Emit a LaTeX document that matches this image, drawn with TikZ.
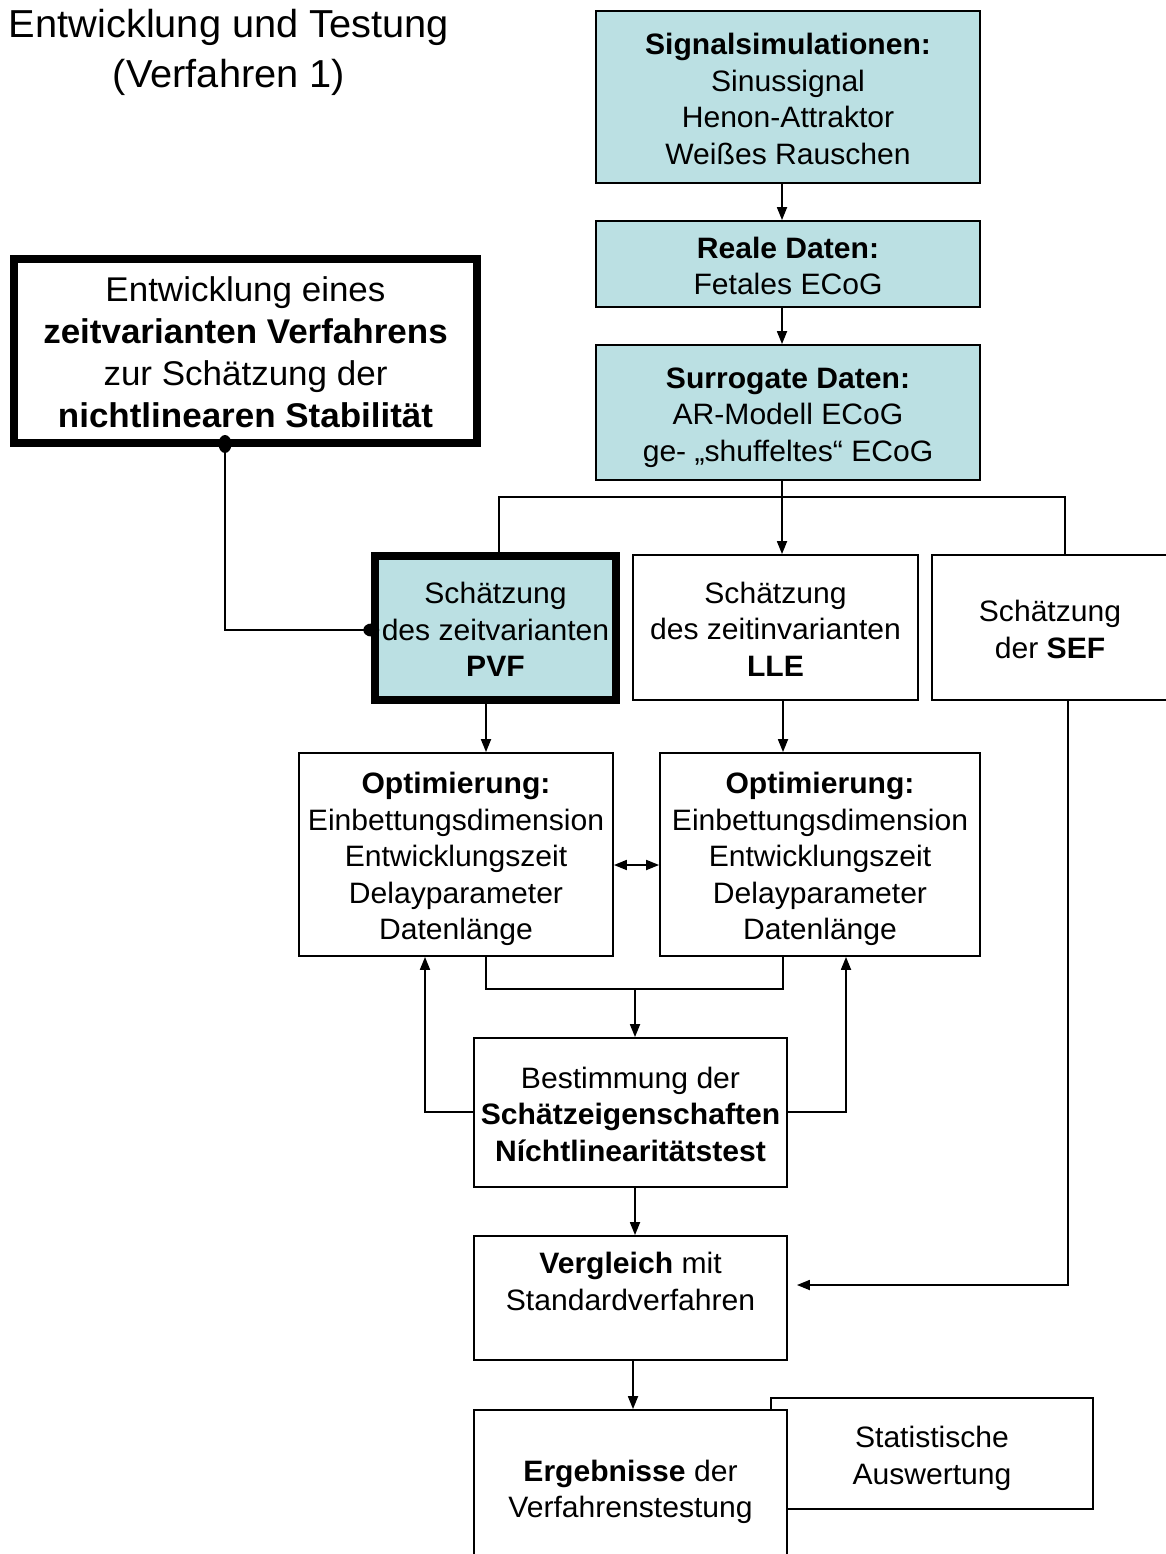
\documentclass[tikz,border=0pt]{standalone}
\usepackage{fontspec}
\setmainfont[FakeStretch=1.02]{Liberation Sans}
\usetikzlibrary{arrows.meta}
\definecolor{boxblue}{RGB}{187,224,227}
\newcommand\bodyfont{\fontsize{29.5}{36.5}\selectfont}
\newcommand\bigfont{\fontsize{34.3}{42}\selectfont}
\newcommand\titlefont{\fontsize{39}{50}\selectfont}
% struts that fix the vertical extent of a multi-line label
\newcommand\topstrut{\rule{0pt}{\dimexpr0.7\baselineskip+10pt\relax}}
\newcommand\botstrut{\strut}
\begin{document}
\begin{tikzpicture}[x=1pt,y=-1pt,
  conn/.style={line width=1.8pt},
  arr/.style={conn,-{Triangle[length=13pt,width=10pt]}},
  dblarr/.style={conn,{Triangle[length=13pt,width=10pt]}-{Triangle[length=13pt,width=10pt]}},
  box/.style={draw, line width=1.8pt, fill=white, align=center, inner sep=0pt, font=\bodyfont},
  bluebox/.style={box, fill=boxblue},
]
\useasboundingbox (0,0) rectangle (1166,1554);
\fill[white] (0,0) rectangle (1166,1554);
\clip (0,0) rectangle (1166,1554);

% heading
\node[font=\titlefont, align=center, inner sep=0pt,
  execute at begin node=\topstrut, execute at end node=\strut]
  (title) at (229,56) {Entwicklung und Testung\\(Verfahren 1)};

% data sources
\node[bluebox, minimum width=384pt, minimum height=172pt] (sim) at (788,97)
  {\topstrut\textbf{Signalsimulationen:}\\Sinussignal\\Henon-Attraktor\\Weißes Rauschen\botstrut};
\node[bluebox, minimum width=384pt, minimum height=86pt] (real) at (788,264)
  {\topstrut\textbf{Reale Daten:}\\Fetales ECoG\botstrut};
\node[bluebox, minimum width=384pt, minimum height=135pt] (surr) at (788,412.5)
  {\topstrut\textbf{Surrogate Daten:}\\AR-Modell ECoG\\ge- „shuffeltes“ ECoG\botstrut};

% development goal
\node[box, line width=8pt, font=\bigfont, minimum width=463pt, minimum height=184pt]
  (dev) at (245.5,351)
  {\topstrut Entwicklung eines\\\textbf{zeitvarianten Verfahrens}\\zur Schätzung der\\\textbf{nichtlinearen Stabilität}\botstrut};

% estimators
\node[bluebox, line width=7.5pt, minimum width=241pt, minimum height=144pt] (pvf) at (495.5,628)
  {\topstrut Schätzung\\des zeitvarianten\\\textbf{PVF}\botstrut};
\node[box, minimum width=285pt, minimum height=145pt] (lle) at (775.5,627.5)
  {\topstrut Schätzung\\des zeitinvarianten\\\textbf{LLE}\botstrut};
\node[box, minimum width=236pt, minimum height=145pt] (sef) at (1050,627.5)
  {\topstrut Schätzung\\der \textbf{SEF}\botstrut};

% optimisation
\node[box, minimum width=314pt, minimum height=203pt] (optA) at (456,854.5)
  {\topstrut\textbf{Optimierung:}\\Einbettungsdimension\\Entwicklungszeit\\Delayparameter\\Datenlänge\botstrut};
\node[box, minimum width=320pt, minimum height=203pt] (optB) at (820,854.5)
  {\topstrut\textbf{Optimierung:}\\Einbettungsdimension\\Entwicklungszeit\\Delayparameter\\Datenlänge\botstrut};

% evaluation
\node[box, minimum width=313pt, minimum height=149pt] (best) at (630.5,1112.5)
  {\topstrut Bestimmung der\\\textbf{Schätzeigenschaften}\\\textbf{Níchtlinearitätstest}\botstrut};
\node[box, minimum width=313pt, minimum height=124pt] (verg) at (630.5,1298)
  {\topstrut\textbf{Vergleich} mit\\Standardverfahren\\\botstrut};
\node[box, minimum width=322pt, minimum height=111pt] (stat) at (932,1453.5)
  {\topstrut Statistische\\Auswertung\botstrut};
\node[box, minimum width=313pt, minimum height=154pt] (erg) at (630.5,1487)
  {\topstrut\textbf{Ergebnisse} der\\Verfahrenstestung\botstrut};

% connector routing points
\coordinate (xm) at (782,0);
\coordinate (jm) at (782,497);
\coordinate (jl) at (499,497);
\coordinate (jr) at (1065,497);
\coordinate (kd) at (225,630);
\coordinate (xp) at (486,0);
\coordinate (xl) at (783,0);
\coordinate (yo) at (0,865);
\coordinate (ml) at (486,989);
\coordinate (mr) at (783,989);
\coordinate (mc) at (635,989);
\coordinate (fl) at (425,1112);
\coordinate (fr) at (846,1112);
\coordinate (xb) at (635,0);
\coordinate (xv) at (633,0);
\coordinate (sr) at (1068,1285);

% data chain
\draw[arr] (sim.south -| xm) -- (real.north -| xm);
\draw[arr] (real.south -| xm) -- (surr.north -| xm);
\draw[conn] (surr.south -| jm) -- (jm);
\draw[conn] (pvf.north -| jl) -- (jl) -- (jr) -- (sef.north -| jr);
\draw[arr] (jm) -- (lle.north -| jm);

% goal linked to the PVF estimator
\draw[conn] (dev.south -| kd) coordinate (dotA) -- (kd) -- (pvf.west |- kd) coordinate (dotB);
\fill ([yshift=3pt]dotA) ellipse [x radius=6.5pt, y radius=9pt];
\fill (dotB) ellipse [x radius=8pt, y radius=6.5pt];

% estimators to optimisation
\draw[arr] (pvf.south -| xp) -- (optA.north -| xp);
\draw[arr] (lle.south -| xl) -- (optB.north -| xl);
\draw[dblarr] (optA.east |- yo) -- (optB.west |- yo);

% optimisation to evaluation and feedback
\draw[conn] (optA.south -| ml) -- (ml) -- (mr) -- (optB.south -| mr);
\draw[arr] (mc) -- (best.north -| mc);
\draw[arr] (best.west |- fl) -- (fl) -- (optA.south -| fl);
\draw[arr] (best.east |- fr) -- (fr) -- (optB.south -| fr);

% comparison and results
\draw[arr] (best.south -| xb) -- (verg.north -| xb);
\draw[arr] (verg.south -| xv) -- (erg.north -| xv);
\draw[arr, shorten >=9pt] (sef.south -| sr) -- (sr) -- (verg.east |- sr);
\end{tikzpicture}
\end{document}
